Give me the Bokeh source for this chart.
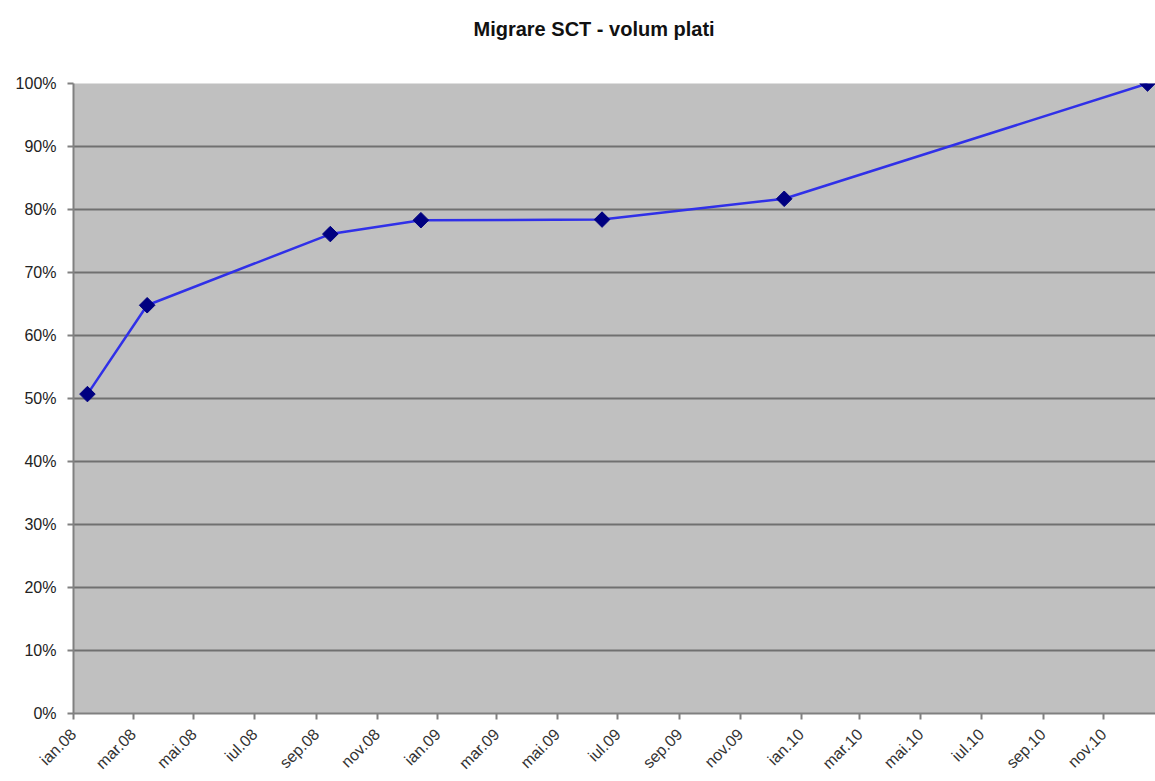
import math
import pandas as pd
from bokeh.plotting import figure
from bokeh.models import ColumnDataSource, FixedTicker, NumeralTickFormatter, Title
from bokeh.embed import file_html
from bokeh.resources import INLINE

# ---- data ----
dates = ["2008-01-15", "2008-03-15", "2008-09-15", "2008-12-15",
         "2009-06-15", "2009-12-15", "2010-12-15"]
values = [0.507, 0.648, 0.761, 0.783, 0.784, 0.817, 1.000]

tick_dates = ["2008-01-01", "2008-03-01", "2008-05-01", "2008-07-01", "2008-09-01", "2008-11-01",
              "2009-01-01", "2009-03-01", "2009-05-01", "2009-07-01", "2009-09-01", "2009-11-01",
              "2010-01-01", "2010-03-01", "2010-05-01", "2010-07-01", "2010-09-01", "2010-11-01"]
tick_labels = ["ian.08", "mar.08", "mai.08", "iul.08", "sep.08", "nov.08",
               "ian.09", "mar.09", "mai.09", "iul.09", "sep.09", "nov.09",
               "ian.10", "mar.10", "mai.10", "iul.10", "sep.10", "nov.10"]
y_ticks = [0, 0.1, 0.2, 0.3, 0.4, 0.5, 0.6, 0.7, 0.8, 0.9, 1.0]
title_text = "Migrare SCT - volum plati"


def ms(d):
    return float(pd.Timestamp(d).value // 10**6)


xs = [ms(d) for d in dates]
tx = [ms(d) for d in tick_dates]
src = ColumnDataSource(dict(x=xs, y=values))

FONT = "Liberation Sans"

p = figure(width=1155, height=781, output_backend="svg", toolbar_location=None,
           x_range=(ms("2008-01-01"), ms("2010-12-23")), y_range=(0, 1),
           min_border_left=73, min_border_right=0, min_border_top=83, min_border_bottom=68)

p.background_fill_color = "#c0c0c0"
p.border_fill_color = "white"
p.outline_line_color = None

p.line("x", "y", source=src, line_color="#3030e8", line_width=2.5)
p.scatter("x", "y", source=src, marker="square", angle=math.pi / 4, size=11,
          fill_color="#000080", line_color="#000080")

# x axis
xa = p.xaxis[0]
xa.ticker = FixedTicker(ticks=tx)
xa.major_label_overrides = {t: l for t, l in zip(tx, tick_labels)}
xa.major_label_orientation = math.pi / 4
xa.major_label_text_font = FONT
xa.major_label_text_font_size = "16px"
xa.major_label_text_color = "#333333"
xa.major_label_standoff = 12
xa.axis_line_color = "#808080"
xa.axis_line_width = 2
xa.major_tick_line_color = "#808080"
xa.major_tick_line_width = 2
xa.major_tick_out = 6
xa.major_tick_in = 0
xa.minor_tick_line_color = None

# y axis
ya = p.yaxis[0]
ya.ticker = FixedTicker(ticks=y_ticks)
ya.formatter = NumeralTickFormatter(format="0%")
ya.major_label_text_font = FONT
ya.major_label_text_font_size = "16px"
ya.major_label_text_color = "#222222"
ya.axis_line_color = "#808080"
ya.axis_line_width = 2
ya.major_tick_line_color = "#808080"
ya.major_tick_line_width = 2
ya.major_tick_out = 6
ya.major_tick_in = 0
ya.minor_tick_line_color = None
ya.major_label_standoff = 11

p.xgrid.grid_line_color = None
p.ygrid.ticker = FixedTicker(ticks=y_ticks)
p.ygrid.grid_line_color = "#707070"
p.ygrid.grid_line_width = 2

# spacer panel between title and frame
spacer = Title(text=" ", text_font_size="1px", standoff=26)
p.add_layout(spacer, "above")

p.title.text = title_text
p.title.align = "left"
p.title.offset = 400
p.title.text_font = FONT
p.title.text_font_size = "20px"
p.title.text_font_style = "bold"
p.title.text_color = "#111111"
p.title.standoff = 29

open("out.html", "w").write(file_html(p, INLINE))
